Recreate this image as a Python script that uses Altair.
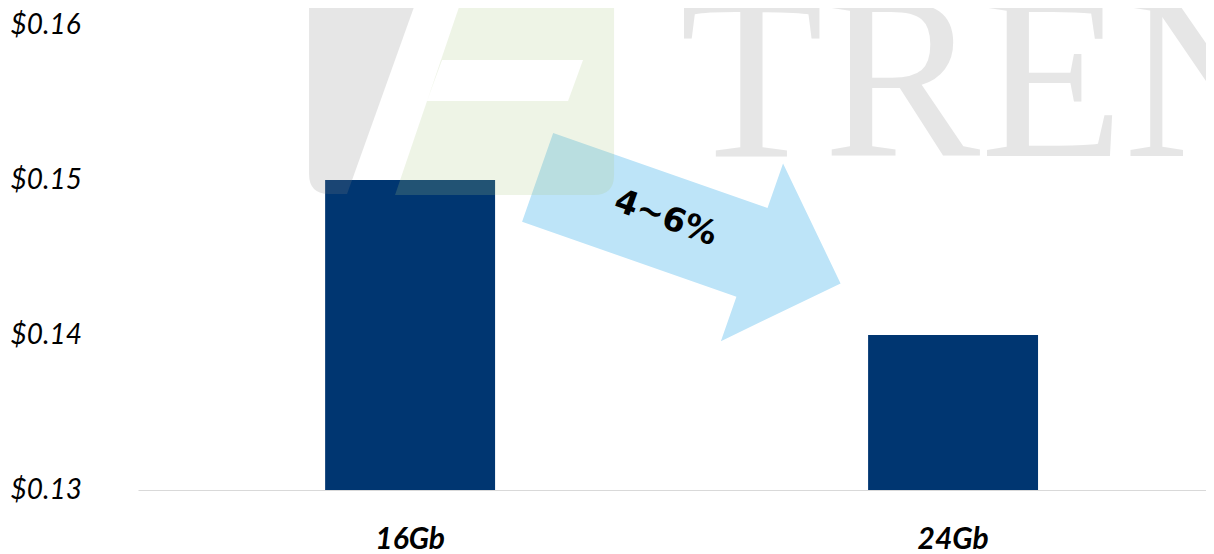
import altair as alt
import pandas as pd

# ---- data ----
categories = ["16Gb", "24Gb"]
prices = [0.150, 0.140]
y_ticks = [0.13, 0.14, 0.15, 0.16]
base_price = 0.13
change_label = ["4~6%"]
watermark_word = ["TRENDFORCE"]

# annotation anchors in data units (x: 1 = 16Gb, 2 = 24Gb ; y: price)
arrow_pos_x = [1.515]
arrow_pos_y = [0.14675]
label_pos_x = [1.472]
label_pos_y = [0.14755]
logo_gray_x = [0.909]
logo_green_x = [1.176]
logo_y = [0.15516]
word_x = [1.498]
word_y = [0.15155]

X_DOMAIN = [0.5, 2.467]
Y_DOMAIN = [0.13, 0.16]

bars_df = pd.DataFrame({"density": categories, "price": prices})

ARROW_PATH = ("M -1 -0.293 L 0.415 -0.293 L 0.415 -0.586 L 1 0 "
              "L 0.415 0.586 L 0.415 0.293 L -1 0.293 Z")
GRAY_LOGO = ("M -0.51 -0.96 L 0.55 -0.96 L -0.13 0.94 L -0.31 0.94 "
             "Q -0.51 0.94 -0.51 0.74 Z")
GREEN_LOGO = ("M -0.45 -0.96 L 1.09 -0.96 L 1.09 0.75 Q 1.09 0.95 0.89 0.95 "
              "L -1.10 0.95 Z "
              "M -0.63 -0.40 L -0.78 0.01 L 0.63 0.01 L 0.78 -0.40 Z")

xq = lambda f: alt.X(f"{f}:Q", scale=alt.Scale(domain=X_DOMAIN, nice=False, zero=False), axis=None)
yq = lambda f: alt.Y(f"{f}:Q", scale=alt.Scale(domain=Y_DOMAIN, nice=False, zero=False), axis=None)

bar = alt.Chart(bars_df).mark_bar(color="#003671").encode(
    x=alt.X("density:N", sort=categories,
            scale=alt.Scale(paddingInner=0.687, paddingOuter=0.327, align=0.527),
            axis=alt.Axis(title=None, labelAngle=0, ticks=False, labelPadding=34,
                          labelFont="Lato", labelFontSize=30, labelFontWeight="bold",
                          labelFontStyle="italic", labelColor="#000000",
                          labelBaseline="top", domainColor="#d9d9d9", domainWidth=1,
                          grid=False)),
    y=alt.Y("price:Q", scale=alt.Scale(domain=Y_DOMAIN, zero=False, nice=False),
            axis=alt.Axis(title=None, values=y_ticks, format="$.2f", ticks=False,
                          domain=False, grid=False, labelAlign="left",
                          labelPadding=128, labelFont="Lato", labelFontSize=28,
                          labelFontStyle="italic", labelColor="#000000",
                          labelBaseline="middle", labelFlush=False,
                          labelOverlap=False)),
    y2=alt.datum(base_price),
)

arrow = alt.Chart(pd.DataFrame({"ax": arrow_pos_x, "ay": arrow_pos_y})).mark_point(
    shape=ARROW_PATH, size=103041, filled=True, fill="#bde4f8", opacity=1,
    strokeWidth=0, angle=19.3,
).encode(x=xq("ax"), y=yq("ay"))

gray_logo = alt.Chart(pd.DataFrame({"gx": logo_gray_x, "gy": logo_y})).mark_point(
    shape=GRAY_LOGO, size=40000, filled=True, fill="#848484", opacity=0.2,
    strokeWidth=0,
).encode(x=xq("gx"), y=yq("gy"))

green_logo = alt.Chart(pd.DataFrame({"hx": logo_green_x, "hy": logo_y})).mark_point(
    shape=GREEN_LOGO, size=40000, filled=True, fill="#aac882", opacity=0.2,
    strokeWidth=0,
).encode(x=xq("hx"), y=yq("hy"))

word = alt.Chart(pd.DataFrame({"wx": word_x, "wy": word_y, "t": watermark_word})).mark_text(
    font="Liberation Serif", fontSize=235, align="left", baseline="alphabetic",
    color="#848484", opacity=0.2,
).encode(x=xq("wx"), y=yq("wy"), text="t:N")

label = alt.Chart(pd.DataFrame({"lx": label_pos_x, "ly": label_pos_y, "t": change_label})).mark_text(
    font="DejaVu Sans", fontSize=33, fontWeight="bold", color="#000000",
    align="center", baseline="middle", angle=20,
).encode(x=xq("lx"), y=yq("ly"), text="t:N")

chart = alt.layer(bar, arrow, gray_logo, green_logo, word, label).resolve_scale(
    x="independent", y="independent"
).properties(
    width=1068, height=465,
    autosize=alt.AutoSizeParams(type="none"),
    padding={"left": 130, "top": 17, "right": 0, "bottom": 64},
    background="white",
).configure_view(stroke=None)

chart.save("out.html", embed_options={"renderer": "svg", "actions": False})
